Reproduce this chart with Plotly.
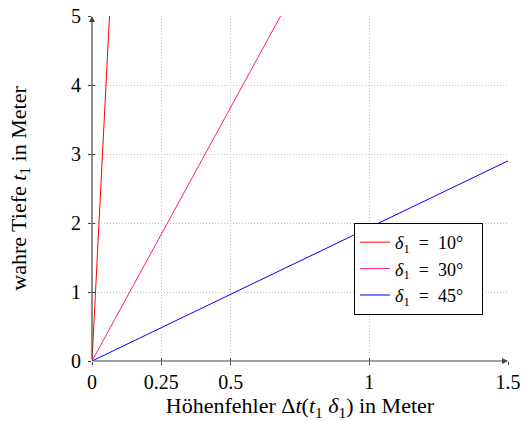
import plotly.graph_objects as go

# Data
labels = ["<i>δ</i><sub>1</sub>\u2002=\u200210°\u00a0\u00a0\u00a0",
          "<i>δ</i><sub>1</sub>\u2002=\u200230°\u00a0\u00a0\u00a0",
          "<i>δ</i><sub>1</sub>\u2002=\u200245°\u00a0\u00a0\u00a0"]
colors = ["#ff0000", "#ff1a8c", "#0000ff"]
err_10 = [0, 0.063]
depth_10 = [0, 5]
err_30 = [0, 0.68]
depth_30 = [0, 5]
err_45 = [0, 1.5]
depth_45 = [0, 2.9]

x_ticks = [0, 0.25, 0.5, 1, 1.5]
x_ticklabels = ["0", "0.25", "0.5", "1", "1.5"]
y_ticks = [0, 1, 2, 3, 4, 5]
x_range = [0, 1.5]
y_range = [0, 5]

font_family = "Liberation Serif, serif"
fs = 20

fig = go.Figure()
for xs, ys, name, col in [(err_10, depth_10, labels[0], colors[0]),
                          (err_30, depth_30, labels[1], colors[1]),
                          (err_45, depth_45, labels[2], colors[2])]:
    fig.add_trace(go.Scatter(x=xs, y=ys, mode="lines", name=name,
                             line=dict(color=col, width=1)))

axis_color = "#444444"
common = dict(showgrid=True, gridcolor="#c0c0c0", griddash="1px,2px", gridwidth=1,
              zeroline=False, showline=False, ticks="outside", ticklen=3,
              tickcolor=axis_color, tickwidth=1, automargin=False,
              tickfont=dict(family=font_family, size=fs, color="black"))

fig.update_layout(
    width=521, height=421,
    margin=dict(l=92, r=13, t=16, b=60, autoexpand=False),
    paper_bgcolor="white", plot_bgcolor="white",
    font=dict(family=font_family, size=fs, color="black"),
    xaxis=dict(range=x_range, tickvals=x_ticks, ticktext=x_ticklabels,
               title=dict(text="Höhenfehler Δ<i>t</i>(<i>t</i><sub>1</sub> <i>δ</i><sub>1</sub>) in Meter",
                          font=dict(family=font_family, size=22), standoff=8),
               **common),
    yaxis=dict(range=y_range, tickvals=y_ticks, ticklabelstandoff=3,
               title=dict(text="wahre Tiefe <i>t</i><sub>1</sub> in Meter",
                          font=dict(family=font_family, size=22), standoff=38),
               **common),
    xaxis2=dict(range=x_range, overlaying="x", tickvals=x_ticks, showticklabels=False,
                ticks="inside", ticklen=3, tickcolor=axis_color, showgrid=False,
                zeroline=False, side="bottom", automargin=False),
    yaxis2=dict(range=y_range, overlaying="y", tickvals=y_ticks, showticklabels=False,
                ticks="inside", ticklen=3, tickcolor=axis_color, showgrid=False,
                zeroline=False, side="left", automargin=False),
    legend=dict(x=0.63, y=0.40, xanchor="left", yanchor="top",
                bordercolor="black", borderwidth=1, bgcolor="white",
                font=dict(family=font_family, size=18), tracegroupgap=0,
                itemwidth=30),
    showlegend=True,
)

# dummy trace to activate the secondary axes for inside ticks
fig.add_trace(go.Scatter(x=[None], y=[None], xaxis="x2", yaxis="y2", showlegend=False,
                         hoverinfo="skip"))

# axis lines with arrows (pgfplots "middle" style)
fig.add_annotation(x=x_range[1], y=0, ax=x_range[0], ay=0, xref="x", yref="y",
                   axref="x", ayref="y", showarrow=True, arrowhead=2, arrowsize=1,
                   arrowwidth=1.2, arrowcolor=axis_color, text="")
fig.add_annotation(x=0, y=y_range[1], ax=0, ay=y_range[0], xref="x", yref="y",
                   axref="x", ayref="y", showarrow=True, arrowhead=2, arrowsize=1,
                   arrowwidth=1.2, arrowcolor=axis_color, text="")

fig.write_html("out.html")
